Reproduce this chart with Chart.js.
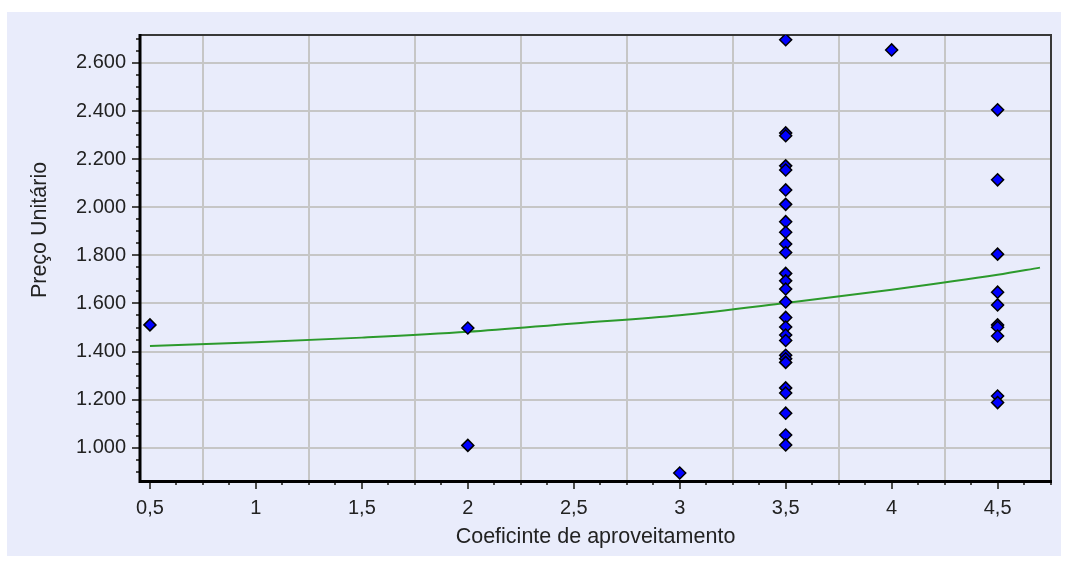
<!DOCTYPE html>
<html><head><meta charset="utf-8">
<script src="https://cdn.jsdelivr.net/npm/chart.js@4.4.1/dist/chart.umd.min.js"></script>
<style>html,body{margin:0;padding:0;background:#fff;}canvas{display:block;}</style>
</head><body>
<canvas id="c" width="1069" height="567"></canvas>
<script>
const xTitle = 'Coeficinte de aproveitamento';
const yTitle = 'Preço Unitário';

// scatter observations (x = coeficiente, y = preço unitário)
const pointX = [
  0.5,
  2, 2,
  3,
  3.5, 3.5, 3.5, 3.5, 3.5, 3.5, 3.5, 3.5, 3.5,
  3.5, 3.5, 3.5, 3.5, 3.5, 3.5, 3.5, 3.5, 3.5,
  3.5, 3.5, 3.5, 3.5, 3.5, 3.5, 3.5, 3.5, 3.5,
  4,
  4.5, 4.5, 4.5, 4.5, 4.5, 4.5, 4.5, 4.5, 4.5, 4.5
];
const pointY = [
  1511,
  1498, 1010,
  895,
  2696, 2309, 2297, 2172, 2155, 2072, 2012, 1940, 1896,
  1847, 1812, 1725, 1694, 1660, 1606, 1542, 1502, 1469,
  1446, 1385, 1370, 1355, 1249, 1228, 1144, 1053, 1012,
  2654,
  2405, 2114, 1805, 1647, 1594, 1511, 1501, 1465, 1215, 1188
];
// fitted trend curve
const trendX = [0.5, 1, 1.5, 2, 2.5, 3, 3.5, 4, 4.5, 4.7];
const trendY = [1423, 1439, 1458, 1482, 1517, 1551, 1602, 1657, 1719, 1749];

const xTickValues = [0.5, 1, 1.5, 2, 2.5, 3, 3.5, 4, 4.5];
const xTickLabels = ['0,5', '1', '1,5', '2', '2,5', '3', '3,5', '4', '4,5'];
const yTickValues = [1000, 1200, 1400, 1600, 1800, 2000, 2200, 2400, 2600];
const yTickLabels = ['1.000', '1.200', '1.400', '1.600', '1.800', '2.000', '2.200', '2.400', '2.600'];

const PANEL = 'rgb(233,236,251)';
const FONT = '"Liberation Sans", Arial, sans-serif';

const pts = pointX.map((v, i) => ({x: v, y: pointY[i]}));
const trend = trendX.map((v, i) => ({x: v, y: trendY[i]}));

const deco = {
  id: 'deco',
  beforeDraw(chart) {
    const ctx = chart.ctx;
    ctx.save();
    ctx.fillStyle = '#ffffff';
    ctx.fillRect(0, 0, chart.width, chart.height);
    ctx.fillStyle = PANEL;
    ctx.fillRect(7, 12, 1054, 544);
    ctx.restore();
  },
  beforeDatasetsDraw(chart) {
    const {ctx, chartArea: a, scales: {x, y}} = chart;
    ctx.save();
    // grid
    ctx.strokeStyle = '#c6c6c6';
    ctx.lineWidth = 2;
    ctx.beginPath();
    y.ticks.forEach(t => {
      const py = Math.round(y.getPixelForValue(t.value));
      ctx.moveTo(a.left, py); ctx.lineTo(a.right, py);
    });
    const xv = x.ticks.map(t => t.value);
    for (let i = 0; i < xv.length - 1; i++) {
      const px = Math.round(x.getPixelForValue((xv[i] + xv[i + 1]) / 2));
      ctx.moveTo(px, a.top); ctx.lineTo(px, a.bottom);
    }
    ctx.stroke();
    // tick marks
    ctx.strokeStyle = '#4a4a4a';
    ctx.lineWidth = 2;
    ctx.beginPath();
    const xStep = 0.125;
    for (let v = Math.ceil(x.min / xStep) * xStep; v <= x.max + 1e-9; v += xStep) {
      const px = Math.round(x.getPixelForValue(v));
      const major = Math.abs(v / 0.5 - Math.round(v / 0.5)) < 1e-6;
      ctx.moveTo(px, a.bottom); ctx.lineTo(px, a.bottom + (major ? 8 : 4));
    }
    const yStep = 50;
    for (let v = Math.ceil(y.min / yStep) * yStep; v <= y.max; v += yStep) {
      const py = Math.round(y.getPixelForValue(v));
      const major = v % 200 === 0;
      ctx.moveTo(a.left, py); ctx.lineTo(a.left - (major ? 8 : 4), py);
    }
    ctx.stroke();
    // frame
    ctx.strokeStyle = '#383838';
    ctx.lineWidth = 2;
    ctx.beginPath();
    ctx.moveTo(a.left, a.top); ctx.lineTo(a.right, a.top); ctx.lineTo(a.right, a.bottom);
    ctx.stroke();
    ctx.strokeStyle = '#000';
    ctx.lineWidth = 3;
    ctx.beginPath();
    ctx.moveTo(a.left, a.top - 1); ctx.lineTo(a.left, a.bottom + 0.5); ctx.lineTo(a.right + 1, a.bottom + 0.5);
    ctx.stroke();
    ctx.restore();
  },
  afterDraw(chart) {
    const {ctx, chartArea: a} = chart;
    ctx.save();
    ctx.fillStyle = '#222';
    ctx.font = '21.5px ' + FONT;
    ctx.textAlign = 'center';
    ctx.textBaseline = 'middle';
    ctx.fillText(xTitle, (a.left + a.right) / 2, 537);
    ctx.translate(40, 230);
    ctx.rotate(-Math.PI / 2);
    ctx.fillText(yTitle, 0, 0);
    ctx.restore();
  }
};

new Chart(document.getElementById('c'), {
  type: 'scatter',
  data: {
    datasets: [
      {
        data: pts,
        pointStyle: 'rectRot',
        pointRadius: 6,
        pointBackgroundColor: '#0000ff',
        pointBorderColor: '#000000',
        pointBorderWidth: 1.5,
        order: 0
      },
      {
        type: 'line',
        data: trend,
        showLine: true,
        borderColor: '#2c9a2c',
        borderWidth: 2,
        pointRadius: 0,
        cubicInterpolationMode: 'monotone',
        fill: false,
        order: 1
      }
    ]
  },
  options: {
    responsive: false,
    animation: false,
    events: [],
    layout: {padding: {left: 0, right: 18, top: 35, bottom: 0}},
    plugins: {legend: {display: false}, tooltip: {enabled: false}},
    scales: {
      x: {
        type: 'linear',
        min: 0.453, max: 4.752,
        afterFit: s => { s.height = 86; },
        grid: {display: true, color: 'rgba(0,0,0,0)', drawTicks: false},
        border: {display: false},
        ticks: {
          stepSize: 0.5, includeBounds: false, autoSkip: false, maxRotation: 0,
          padding: 15, color: '#222', font: {family: FONT, size: 20},
          callback: v => { const i = xTickValues.findIndex(t => Math.abs(t - v) < 1e-6); return i >= 0 ? xTickLabels[i] : ''; }
        }
      },
      y: {
        type: 'linear',
        min: 862, max: 2716,
        afterFit: s => { s.width = 140; },
        grid: {display: true, color: 'rgba(0,0,0,0)', drawTicks: false},
        border: {display: false},
        ticks: {
          stepSize: 200, includeBounds: false, autoSkip: false,
          padding: 14, color: '#222', font: {family: FONT, size: 20},
          callback: v => { const i = yTickValues.indexOf(v); return i >= 0 ? yTickLabels[i] : ''; }
        }
      }
    }
  },
  plugins: [deco]
});
</script>
</body></html>
